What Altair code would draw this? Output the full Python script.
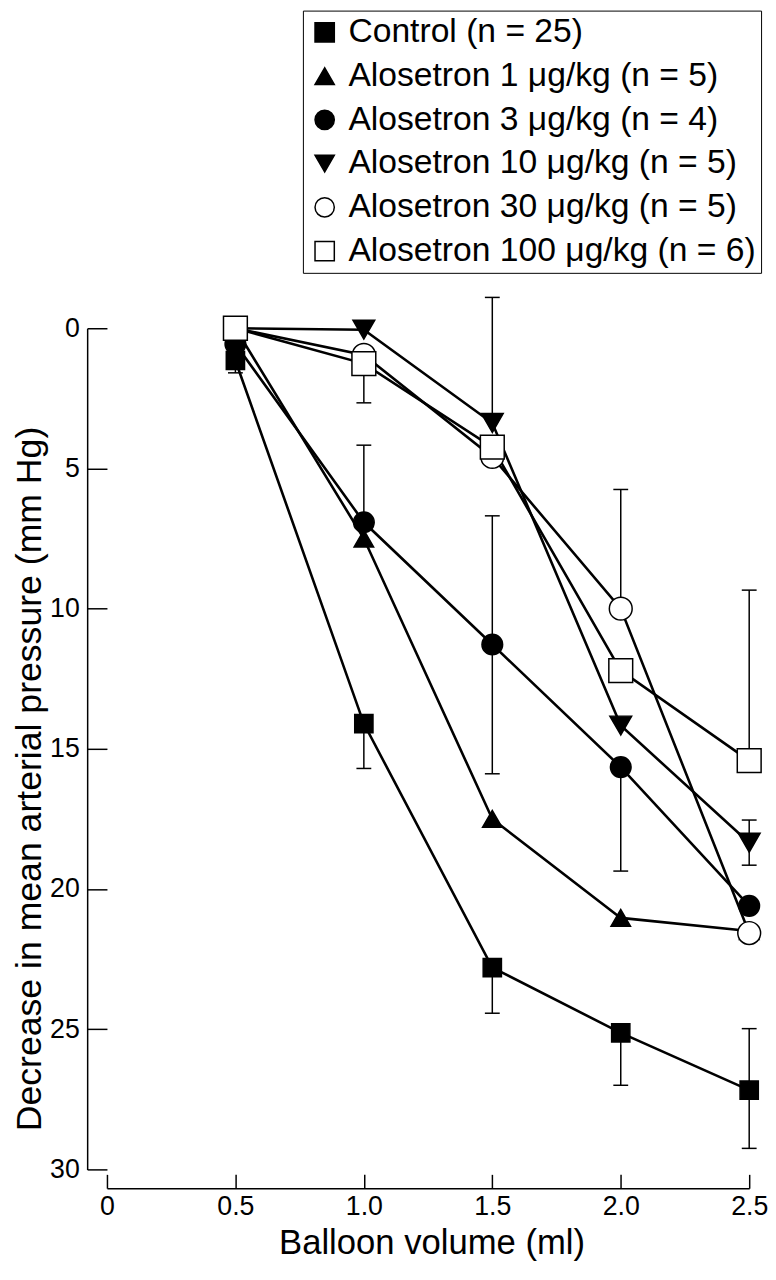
import altair as alt
import pandas as pd

# ---- data ----
volumes = [0.5, 1.0, 1.5, 2.0, 2.5]
series_labels = [
    "Control (n = 25)",
    "Alosetron 1 μg/kg (n = 5)",
    "Alosetron 3 μg/kg (n = 4)",
    "Alosetron 10 μg/kg (n = 5)",
    "Alosetron 30 μg/kg (n = 5)",
    "Alosetron 100 μg/kg (n = 6)",
]
control = [1.15, 14.1, 22.8, 25.13, 27.17]
alo_1 = [0.0, 7.5, 17.5, 21.03, 21.5]
alo_3 = [0.56, 6.92, 11.28, 15.65, 20.6]
alo_10 = [0.0, 0.05, 3.38, 14.17, 18.35]
alo_30 = [0.0, 0.95, 4.59, 10.0, 21.57]
alo_100 = [0.0, 1.26, 4.24, 12.21, 15.42]

# error-bar ends (None = bar not drawn in that direction)
control_up = [None, None, None, None, 24.98]
control_down = [1.59, 15.7, 24.43, 27.0, 29.25]
alo_1_up = [None, None, None, None, None]
alo_1_down = [None, None, None, None, None]
alo_3_up = [None, 4.17, 6.69, None, None]
alo_3_down = [None, None, 15.89, 19.36, None]
alo_10_up = [None, None, -1.1, None, 17.54]
alo_10_down = [None, None, None, None, 19.15]
alo_30_up = [None, None, None, 5.75, None]
alo_30_down = [None, None, None, None, None]
alo_100_up = [None, None, None, None, 9.34]
alo_100_down = [None, 2.66, None, None, None]

x_ticks = [0, 0.5, 1.0, 1.5, 2.0, 2.5]
y_ticks = [0, 5, 10, 15, 20, 25, 30]

# ---- styling ----
shapes = ["square", "triangle-up", "circle", "triangle-down", "circle", "square"]
fills = ["black", "black", "black", "black", "white", "white"]
strokes = ["black"] * 6
sizes = [340, 580, 450, 580, 410, 320]

W, H = 649, 850
PAD = {"left": 100, "top": 317, "right": 19, "bottom": 92}
FONT = "Liberation Sans"

means = [control, alo_1, alo_3, alo_10, alo_30, alo_100]
ups = [control_up, alo_1_up, alo_3_up, alo_10_up, alo_30_up, alo_100_up]
downs = [control_down, alo_1_down, alo_3_down, alo_10_down, alo_30_down, alo_100_down]

rows, err_rows = [], []
for s, lab in enumerate(series_labels):
    for i, v in enumerate(volumes):
        rows.append({"series": lab, "sidx": s, "volume": v, "value": means[s][i]})
        for ends in (ups[s], downs[s]):
            if ends[i] is not None:
                err_rows.append({"series": lab, "volume": v,
                                 "mean": means[s][i], "end": ends[i]})
df = pd.DataFrame(rows)
err = pd.DataFrame(err_rows)

xscale = alt.Scale(domain=[0, 2.5], nice=False, zero=False)
yscale = alt.Scale(domain=[0, 30], nice=False, zero=False, reverse=True)

x_main_axis = alt.Axis(
    orient="bottom", values=x_ticks, offset=19, grid=False,
    domain=True, domainColor="black", domainWidth=1.5,
    ticks=False, tickSize=0, labelFontSize=27, labelColor="black",
    labelPadding=6, labelFlush=False, labelFont=FONT,
    labelExpr="datum.value == 0 ? '0' : format(datum.value, '.1f')",
    title="Balloon volume (ml)", titleFontSize=35, titleFontWeight="normal",
    titleColor="black", titleFont=FONT, titleBaseline="alphabetic",
    titleX=328, titleY=66, titleAlign="center",
)
y_main_axis = alt.Axis(
    orient="left", values=y_ticks, offset=20, grid=False,
    domain=True, domainColor="black", domainWidth=1.5,
    ticks=False, tickSize=0, labelFontSize=27, labelColor="black",
    labelPadding=8, labelFont=FONT, format="d",
    title="Decrease in mean arterial pressure (mm Hg)", titleFontSize=36,
    titleFontWeight="normal", titleColor="black", titleFont=FONT,
    titleAngle=270, titleX=-47, titleY=455, titleAlign="center",
    titleBaseline="alphabetic",
)
# tick marks pointing into the plot, drawn by a second pair of axes
x_tick_axis = alt.Axis(
    orient="bottom", values=x_ticks, offset=5, grid=False,
    domain=False, labels=False, ticks=True, tickSize=14, tickWidth=1.5,
    tickColor="black", title=None,
)
y_tick_axis = alt.Axis(
    orient="left", values=y_ticks, offset=0, grid=False,
    domain=False, labels=False, ticks=True, tickSize=20, tickWidth=1.5,
    tickColor="black", title=None,
)

legend = alt.Legend(
    title=None, orient="none", legendX=198, legendY=-321,
    padding=5, rowPadding=10.2, strokeColor="black", fillColor="white",
    labelFontSize=34, labelFont=FONT, labelColor="black", labelLimit=800,
    labelOffset=7, symbolSize=380, symbolStrokeWidth=1.5, symbolOpacity=1,
)

lines = alt.Chart(df).mark_line(color="black", strokeWidth=2.6).encode(
    x=alt.X("volume:Q", scale=xscale, axis=x_main_axis),
    y=alt.Y("value:Q", scale=yscale, axis=y_main_axis),
    detail="series:N",
    order="volume:Q",
)

errbars = alt.Chart(err).mark_rule(color="black", strokeWidth=1.5).encode(
    x=alt.X("volume:Q", scale=xscale, axis=x_tick_axis),
    y=alt.Y("mean:Q", scale=yscale, axis=y_tick_axis),
    y2="end:Q",
)

caps = alt.Chart(err).mark_tick(
    orient="horizontal", color="black", size=15, thickness=1.5, opacity=1
).encode(
    x=alt.X("volume:Q", scale=xscale, axis=None),
    y=alt.Y("end:Q", scale=yscale, axis=None),
)

points = alt.Chart(df).mark_point(
    filled=True, strokeWidth=1.5, opacity=1, fillOpacity=1
).encode(
    x=alt.X("volume:Q", scale=xscale, axis=None),
    y=alt.Y("value:Q", scale=yscale, axis=None),
    fill=alt.Fill("series:N", scale=alt.Scale(domain=series_labels, range=fills),
                  legend=legend, sort=series_labels),
    stroke=alt.Stroke("series:N", scale=alt.Scale(domain=series_labels, range=strokes),
                      legend=legend, sort=series_labels),
    shape=alt.Shape("series:N", scale=alt.Scale(domain=series_labels, range=shapes),
                    legend=legend, sort=series_labels),
    size=alt.Size("sidx:O", scale=alt.Scale(domain=list(range(6)), range=sizes),
                  legend=None),
    order=alt.Order("sidx:Q"),
)

chart = (
    alt.layer(lines, errbars, caps, points)
    .resolve_axis(x="independent", y="independent")
    .properties(
        width=W, height=H, padding=PAD,
        autosize=alt.AutoSizeParams(type="none"),
        background="white",
    )
    .configure(font=FONT)
    .configure_view(strokeWidth=0, stroke="transparent")
)

chart.save("out.html", embed_options={"renderer": "svg", "actions": False})
